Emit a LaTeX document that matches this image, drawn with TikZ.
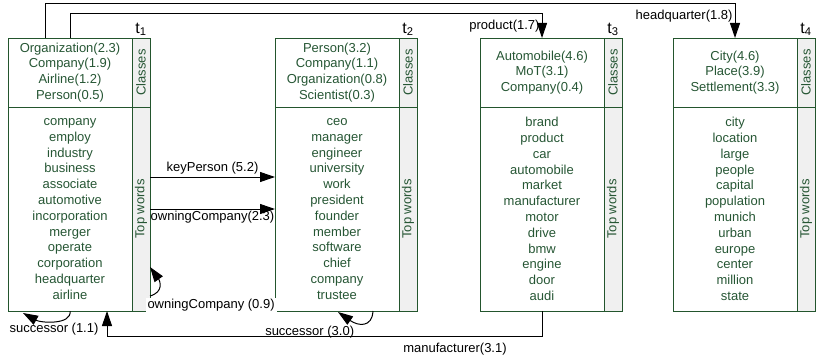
\documentclass[tikz,border=0pt]{standalone}
\usepackage{fontspec}
\setmainfont{Liberation Sans}
\usepackage{graphicx}
\usepackage{tikz}
\usetikzlibrary{arrows.meta, positioning}
\definecolor{boxgreen}{RGB}{35,85,45}
\definecolor{txtgreen}{RGB}{38,86,52}
\definecolor{stripgray}{RGB}{240,240,240}
\tikzset{
  clsbox/.style={rectangle, draw=boxgreen, text=txtgreen,
    minimum width=124pt, minimum height=69pt, align=center,
    inner sep=0pt, outer sep=0pt, line width=0.8pt,
    font=\fontsize{13}{15.8}\selectfont},
  wordbox/.style={clsbox, minimum height=204pt},
  sidebox/.style={rectangle, draw=boxgreen, fill=stripgray, text=txtgreen,
    minimum width=18pt, inner sep=0pt, outer sep=0pt, line width=0.8pt,
    font=\fontsize{13}{15.8}\selectfont},
  tlabel/.style={font=\fontsize{16}{18}\selectfont, inner sep=1pt},
  elabel/.style={font=\fontsize{13}{15.8}\selectfont, inner sep=2pt},
  arrow/.style={-{Triangle[length=15pt, width=10pt]}, line width=1pt, color=black}
}

\begin{document}
\begin{tikzpicture}[x=1pt, y=1pt]
  \useasboundingbox (0,0) rectangle (816,357);

  % Topic t1
  \node[clsbox, anchor=north west] (t1cls) at (8,319) {Organization(2.3)\\Company(1.9)\\Airline(1.2)\\Person(0.5)};
  \node[wordbox, below=0pt of t1cls] (t1words) {company\\employ\\industry\\business\\associate\\automotive\\incorporation\\merger\\operate\\corporation\\headquarter\\airline};
  \node[sidebox, right=0pt of t1cls, minimum height=69pt] (t1c) {\rotatebox{90}{Classes}};
  \node[sidebox, right=0pt of t1words, minimum height=204pt] (t1t) {\rotatebox{90}{Top words}};
  \node[tlabel, above=1pt of t1c] (t1lbl) {t\textsubscript{1}};

  % Topic t2
  \node[clsbox, anchor=north west] (t2cls) at (275,319) {Person(3.2)\\Company(1.1)\\Organization(0.8)\\Scientist(0.3)};
  \node[wordbox, below=0pt of t2cls] (t2words) {ceo\\manager\\engineer\\university\\work\\president\\founder\\member\\software\\chief\\company\\trustee};
  \node[sidebox, right=0pt of t2cls, minimum height=69pt] (t2c) {\rotatebox{90}{Classes}};
  \node[sidebox, right=0pt of t2words, minimum height=204pt] (t2t) {\rotatebox{90}{Top words}};
  \node[tlabel, above=1pt of t2c] (t2lbl) {t\textsubscript{2}};

  % Topic t3
  \node[clsbox, anchor=north west] (t3cls) at (480,319) {Automobile(4.6)\\MoT(3.1)\\Company(0.4)};
  \node[wordbox, below=0pt of t3cls] (t3words) {brand\\product\\car\\automobile\\market\\manufacturer\\motor\\drive\\bmw\\engine\\door\\audi};
  \node[sidebox, right=0pt of t3cls, minimum height=69pt] (t3c) {\rotatebox{90}{Classes}};
  \node[sidebox, right=0pt of t3words, minimum height=204pt] (t3t) {\rotatebox{90}{Top words}};
  \node[tlabel, above=1pt of t3c] (t3lbl) {t\textsubscript{3}};

  % Topic t4
  \node[clsbox, anchor=north west] (t4cls) at (673,319) {City(4.6)\\Place(3.9)\\Settlement(3.3)};
  \node[wordbox, below=0pt of t4cls] (t4words) {city\\location\\large\\people\\capital\\population\\munich\\urban\\europe\\center\\million\\state};
  \node[sidebox, right=0pt of t4cls, minimum height=69pt] (t4c) {\rotatebox{90}{Classes}};
  \node[sidebox, right=0pt of t4words, minimum height=204pt] (t4t) {\rotatebox{90}{Top words}};
  \node[tlabel, above=1pt of t4c] (t4lbl) {t\textsubscript{4}};

  % Relations over the top
  \draw[arrow] ([xshift=-25pt]t1cls.north) -- ++(0,34) -| node[elabel, pos=0.68, left] {headquarter(1.8)} (t4cls.north);
  \draw[arrow] (t1cls.north) -- ++(0,24) -| node[elabel, pos=0.75, left] {product(1.7)} (t3cls.north);

  % Relations between t1 and t2
  \draw[arrow] ([yshift=32pt]t1t.east) -- ([yshift=32pt]t2words.west) node[elabel, midway, above] {keyPerson (5.2)};
  \draw[arrow] (t1t.east) -- (t2words.west) node[elabel, midway, below] {owningCompany(2.3)};

  % Self loops
  \draw[arrow] ([yshift=15pt]t1t.south east) .. controls +(14,4) and +(10,-14) .. ([yshift=44pt]t1t.south east)
    node[elabel, pos=0, anchor=north west, fill=white, xshift=-5pt, yshift=-1pt] {owningCompany (0.9)};
  \draw[arrow] (t1words.south) .. controls +(2,-14) and +(18,-10) .. ([xshift=-47pt,yshift=-2pt]t1words.south)
    node[elabel, pos=0.5, below] {successor (1.1)};
  \draw[arrow] ([xshift=36pt]t2words.south) .. controls +(-1,-17) and +(20,-14) .. ([xshift=1pt,yshift=-1pt]t2words.south)
    node[elabel, pos=0.5, below left, xshift=-6pt] {successor (3.0)};

  % Relation below
  \draw[arrow] (t3words.south) -- ++(0,-25) -| node[elabel, pos=0.1, below, yshift=-5pt] {manufacturer(3.1)} ([xshift=37pt]t1words.south);
\end{tikzpicture}
\end{document}
